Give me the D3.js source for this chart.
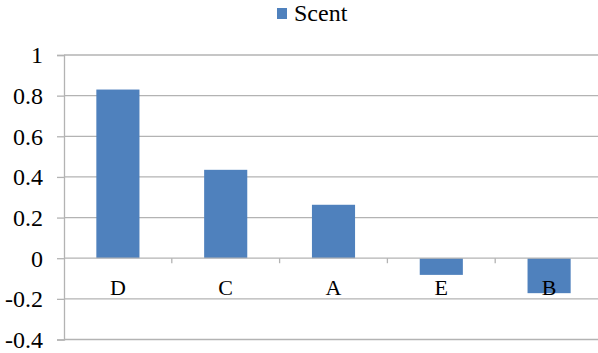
<!DOCTYPE html>
<html>
<head>
<meta charset="utf-8">
<script src="https://cdn.jsdelivr.net/npm/d3@7"></script>
<style>
  html, body { margin: 0; padding: 0; background: #fff; }
  svg { display: block; }
</style>
</head>
<body>
<svg id="chart" width="598" height="353"></svg>
<script>
// Scent score per sample
const categories = ["D", "C", "A", "E", "B"];
const scentValues = [0.83, 0.435, 0.263, -0.082, -0.172];
const yTicks = [1, 0.8, 0.6, 0.4, 0.2, 0, -0.2, -0.4];
const yTickLabels = ["1", "0.8", "0.6", "0.4", "0.2", "0", "-0.2", "-0.4"];
const seriesName = "Scent";

const serif = "'Times New Roman', 'Liberation Serif', serif";

const svg = d3.select("#chart");
const plotLeft = 64, plotRight = 603, plotTop = 55, plotBottom = 339.5;
const gridColor = "#b3b3b3";
const barColor = "#4f81bd";

const x = d3.scaleBand().domain(categories).range([plotLeft, plotRight]).paddingInner(0.6).paddingOuter(0.3);
const y = d3.scaleLinear().domain([-0.4, 1]).range([plotBottom, plotTop]);

// horizontal gridlines
svg.append("g").selectAll("line").data(yTicks.filter(t => t !== 0)).join("line")
  .attr("x1", plotLeft).attr("x2", plotRight)
  .attr("y1", d => y(d)).attr("y2", d => y(d))
  .attr("stroke", gridColor).attr("stroke-width", 1.3);

// y axis with labels
const yAxis = d3.axisLeft(y).tickValues(yTicks)
  .tickFormat((d, i) => yTickLabels[i]).tickSize(7).tickPadding(14);
const gy = svg.append("g").attr("transform", `translate(${plotLeft},0)`).call(yAxis)
  .attr("font-family", serif).attr("font-size", "24px");
gy.select(".domain").attr("stroke", gridColor).attr("stroke-width", 1.3);
gy.selectAll(".tick line").attr("stroke", gridColor).attr("stroke-width", 1.3);
gy.selectAll(".tick text").attr("fill", "#000").attr("dy", "0.33em");

// bars
svg.append("g").selectAll("rect").data(categories).join("rect")
  .attr("x", d => x(d))
  .attr("width", x.bandwidth())
  .attr("y", (d, i) => y(Math.max(0, scentValues[i])))
  .attr("height", (d, i) => Math.abs(y(scentValues[i]) - y(0)))
  .attr("fill", barColor);

// zero baseline with category boundary ticks
svg.append("line").attr("x1", plotLeft).attr("x2", plotRight)
  .attr("y1", y(0)).attr("y2", y(0))
  .attr("stroke", gridColor).attr("stroke-width", 1.3);
const boundary = d => x(d) + x.bandwidth() / 2 - x.step() / 2;
svg.append("g").selectAll("line").data(categories.slice(1)).join("line")
  .attr("x1", boundary).attr("x2", boundary)
  .attr("y1", y(0)).attr("y2", y(0) + 5)
  .attr("stroke", gridColor).attr("stroke-width", 1.3);

// category labels
svg.append("g").attr("font-family", serif).attr("font-size", "22px")
  .selectAll("text").data(categories).join("text")
  .attr("x", d => x(d) + x.bandwidth() / 2)
  .attr("y", y(0) + 37)
  .attr("text-anchor", "middle")
  .attr("fill", "#000")
  .text(d => d);

// legend
const lg = svg.append("g").attr("transform", "translate(277,8)");
lg.append("rect").attr("width", 10).attr("height", 11).attr("fill", barColor);
lg.append("text").attr("x", 17).attr("y", 13)
  .attr("font-family", serif).attr("font-size", "24px").attr("fill", "#000")
  .text(seriesName);
</script>
</body>
</html>
